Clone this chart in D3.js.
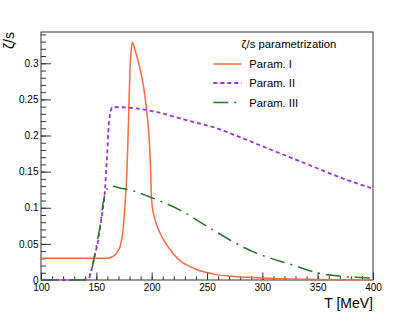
<!DOCTYPE html>
<html>
<head>
<meta charset="utf-8">
<script src="https://cdn.jsdelivr.net/npm/d3@7"></script>
<style>
  body { margin: 0; background: #fff; }
  text { font-family: "Liberation Sans", Arial, sans-serif; fill: #000; }
</style>
</head>
<body>
<svg id="chart" width="415" height="312"></svg>
<script>
// temperature grid and zeta/s values
const t1 = [100, 160, 162.3, 166.9, 169, 171.4, 173.8, 176, 177.4, 178.3, 179.5, 180.4, 181.5, 182.5,
            184.9, 187.9, 191, 194, 196, 197.6, 198.5, 199.1, 199.6, 200.2,
            202.7, 205.7, 211.8, 219.3, 226.8, 232, 241.9, 257, 272, 287, 300, 325, 350, 375, 400];
const param1 = [0.03, 0.03, 0.0308, 0.0345, 0.039, 0.046, 0.0645, 0.106, 0.143, 0.18, 0.245, 0.291, 0.318, 0.329,
                0.3186, 0.3025, 0.2818, 0.254, 0.2265, 0.199, 0.1736, 0.15, 0.12, 0.106,
                0.0852, 0.0714, 0.053, 0.0368, 0.0253, 0.0205, 0.0138, 0.0078, 0.0051, 0.0037, 0.0028, 0.0015, 0.0008, 0.0004, 0.0002];

const t2 = [100, 140, 143, 145, 146.7, 148, 149.7, 152, 153.9, 156, 157.8, 159, 159.9, 160.8, 162, 163, 164.4,
            170, 177, 183.4, 195, 206, 225, 240, 256, 283, 313, 343, 373, 400];
const param2 = [0, 0, 0.002, 0.01, 0.0207, 0.03, 0.041, 0.058, 0.078, 0.1, 0.124, 0.155, 0.176, 0.205, 0.226, 0.234, 0.239,
                0.2392, 0.2388, 0.238, 0.2355, 0.232, 0.224, 0.218, 0.2115, 0.1957, 0.1772, 0.1588, 0.1404, 0.1265];

const t3 = [100, 138, 140, 143, 145.8, 148.8, 151, 153.3, 156.3, 158.7, 161, 164, 171.4, 183.4, 196.7,
            225.6, 255.7, 284, 291.8, 325, 352, 376, 400];
const param3 = [0, 0, 0.002, 0.006, 0.0138, 0.037, 0.055, 0.0737, 0.108, 0.123, 0.128, 0.13, 0.1275, 0.1234, 0.116,
                0.0967, 0.069, 0.0446, 0.039, 0.022, 0.0092, 0.0046, 0.0025];

const seriesNames = ["Param. I", "Param. II", "Param. III"];
const colors = ["#ff6a3d", "#9b30e8", "#237a23"];
const dashes = [null, "4,3", "15,6,2,6"];
const legendTitle = "\u03B6/s parametrization";

const xTicks = [100, 150, 200, 250, 300, 350, 400];
const yTicks = [0, 0.05, 0.1, 0.15, 0.2, 0.25, 0.3];

const frameL = 41, frameR = 373, frameT = 32, frameB = 280;

const svg = d3.select("#chart");
const x = d3.scaleLinear().domain([100, 400]).range([frameL, frameR]);
const y = d3.scaleLinear().domain([0, 0.3433]).range([frameB, frameT]);

// minor ticks
svg.append("g")
    .attr("transform", "translate(0," + frameB + ")")
    .call(d3.axisBottom(x).tickValues(d3.range(100, 401, 10)).tickSize(-3.75).tickFormat(""))
    .call(g => g.select(".domain").remove())
    .call(g => g.selectAll("line").attr("stroke", "#333"));
svg.append("g")
    .attr("transform", "translate(" + frameL + ",0)")
    .call(d3.axisLeft(y).tickValues(d3.range(0, 0.341, 0.01)).tickSize(-5).tickFormat(""))
    .call(g => g.select(".domain").remove())
    .call(g => g.selectAll("line").attr("stroke", "#333"));

// major ticks + labels
svg.append("g")
    .attr("transform", "translate(0," + frameB + ")")
    .call(d3.axisBottom(x).tickValues(xTicks).tickSize(-7.5).tickPadding(3.5).tickFormat(d3.format("d")))
    .call(g => g.select(".domain").remove())
    .call(g => g.selectAll("line").attr("stroke", "#333"))
    .call(g => g.selectAll("text").attr("font-size", 10).attr("font-family", "Liberation Sans").attr("fill", "#000"));
svg.append("g")
    .attr("transform", "translate(" + frameL + ",0)")
    .call(d3.axisLeft(y).tickValues(yTicks).tickSize(-10).tickPadding(2.5).tickFormat(d => d === 0 ? "0" : String(+d.toFixed(2))))
    .call(g => g.select(".domain").remove())
    .call(g => g.selectAll("line").attr("stroke", "#333"))
    .call(g => g.selectAll("text").attr("font-size", 10).attr("font-family", "Liberation Sans").attr("fill", "#000"));

// frame
svg.append("rect")
    .attr("x", frameL).attr("y", frameT)
    .attr("width", frameR - frameL).attr("height", frameB - frameT)
    .attr("fill", "none").attr("stroke", "#333").attr("stroke-width", 1);

// curves
svg.append("clipPath").attr("id", "clip")
  .append("rect").attr("x", frameL).attr("y", frameT).attr("width", frameR - frameL).attr("height", frameB - frameT + 1);

const line = d3.line().x(d => x(d[0])).y(d => y(d[1])).curve(d3.curveMonotoneX);
const series = [d3.zip(t1, param1), d3.zip(t2, param2), d3.zip(t3, param3)];

svg.append("g").attr("clip-path", "url(#clip)")
  .selectAll("path")
  .data(series)
  .join("path")
    .attr("d", line)
    .attr("fill", "none")
    .attr("stroke", (d, i) => colors[i])
    .attr("stroke-width", (d, i) => i === 1 ? 1.8 : 1.5)
    .attr("stroke-dasharray", (d, i) => dashes[i]);

// axis titles
svg.append("text")
    .attr("x", frameR).attr("y", 308)
    .attr("text-anchor", "end")
    .attr("font-size", 14)
    .text("T [MeV]");
svg.append("text")
    .attr("transform", "translate(14," + frameT + ") rotate(-90)")
    .attr("text-anchor", "end")
    .attr("font-size", 14)
    .text("\u03B6/s");

// legend
const legend = svg.append("g");
legend.append("text")
    .attr("x", 289).attr("y", 48.3)
    .attr("text-anchor", "middle")
    .attr("font-size", 11.3)
    .text(legendTitle);
const entryY = [64, 83, 102.5];
const items = legend.selectAll("g.item")
  .data(seriesNames)
  .join("g").attr("class", "item")
    .attr("transform", (d, i) => "translate(0," + entryY[i] + ")");
items.append("line")
    .attr("x1", 213.3).attr("x2", 241.7)
    .attr("stroke", (d, i) => colors[i])
    .attr("stroke-width", (d, i) => i === 1 ? 1.8 : 1.5)
    .attr("stroke-dasharray", (d, i) => dashes[i]);
items.append("text")
    .attr("x", 249.3).attr("dy", "0.36em")
    .attr("font-size", 11.3)
    .text(d => d);
</script>
</body>
</html>
